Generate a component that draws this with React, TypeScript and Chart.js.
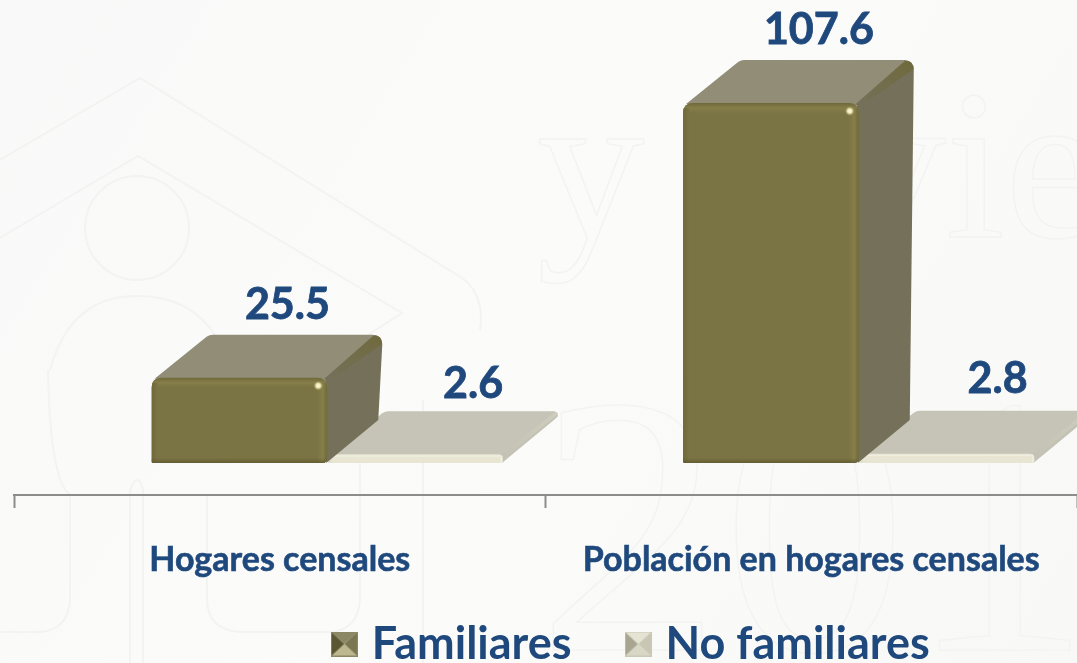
import React, { useEffect, useRef } from "react";
import { Chart, BarController, BarElement, registerables } from "chart.js";

Chart.register(...registerables);

const categories = ["Hogares censales", "Población en hogares censales"];
const seriesNames = ["Familiares", "No familiares"];
const familiares = [25.5, 107.6];
const noFamiliares = [2.6, 2.8];
const valueLabels = [["25.5", "107.6"], ["2.6", "2.8"]];

const FONT = "Lato, sans-serif";
const BLUE = "#1f497d";
const DX = 55, DY = 43, SHIFT = 47.5;

function marker(a: string, b: string, c: string, d: string, e: string) {
  const cv = document.createElement("canvas");
  cv.width = 27; cv.height = 25;
  const x = cv.getContext("2d")!;
  const tri = (pts: number[][], col: string) => {
    x.fillStyle = col; x.beginPath();
    pts.forEach((p, i) => (i ? x.lineTo(p[0], p[1]) : x.moveTo(p[0], p[1])));
    x.closePath(); x.fill();
  };
  tri([[0, 0], [27, 0], [13.5, 12.5]], a);
  tri([[0, 25], [27, 25], [13.5, 12.5]], b);
  tri([[0, 0], [0, 25], [13.5, 12.5]], c);
  tri([[27, 0], [27, 25], [13.5, 12.5]], d);
  x.strokeStyle = e; x.lineWidth = 1; x.strokeRect(0.5, 0.5, 26, 24);
  return cv;
}

function roundedFront(ctx: CanvasRenderingContext2D, l: number, t: number, r: number, b: number, rad: number, tall: boolean) {
  ctx.beginPath();
  if (tall) {
    ctx.moveTo(l + 1, b);
    ctx.lineTo(l, b - 1);
  } else {
    ctx.moveTo(l + rad * 0.5, b);
    ctx.quadraticCurveTo(l, b, l, b - rad * 0.5);
  }
  ctx.lineTo(l, t + rad);
  ctx.quadraticCurveTo(l, t, l + rad, t);
  ctx.lineTo(r - rad, t);
  ctx.quadraticCurveTo(r, t, r, t + rad);
  ctx.lineTo(r, b - rad * 0.5);
  ctx.quadraticCurveTo(r, b, r - rad * 0.5, b);
  ctx.closePath();
}

class Bar3D extends BarElement {
  static id = "bar3d";
  draw(ctx: CanvasRenderingContext2D) {
    const o: any = this.options;
    const el: any = this;
    const w = el.width;
    const l = el.x - w / 2 + SHIFT, r = l + w;
    const t = el.y, b = el.base;
    const h = b - t;
    const tall = h > 30;
    const rad = tall ? 10 : Math.min(5, h * 0.6);
    ctx.save();
    // side face
    ctx.fillStyle = o.sideColor;
    ctx.beginPath();
    ctx.moveTo(r - 1, b);
    ctx.lineTo(r + DX - 4, b - DY);
    ctx.lineTo(r + DX, t - DY + rad);
    ctx.quadraticCurveTo(r + DX, t - DY, r + DX - rad, t - DY);
    ctx.lineTo(r - 2, t);
    ctx.closePath();
    ctx.fill();
    // top face
    ctx.fillStyle = o.topColor;
    ctx.beginPath();
    ctx.moveTo(l + 3, t + 1);
    ctx.lineTo(l + DX, t - DY + 2);
    ctx.quadraticCurveTo(l + DX + 3, t - DY, l + DX + 6, t - DY);
    ctx.lineTo(r + DX - rad, t - DY);
    ctx.quadraticCurveTo(r + DX - 3, t - DY + 1, r + DX - 3, t - DY + 4);
    ctx.lineTo(r - 2, t + 2);
    ctx.closePath();
    ctx.fill();
    // soft bevel along the top right edge, wider towards the back
    const wide = tall ? 9 : 3;
    const gd = ctx.createLinearGradient(r, t, r + DX, t - DY);
    gd.addColorStop(0, o.sideColor);
    gd.addColorStop(1, o.edgeColor);
    ctx.fillStyle = gd;
    ctx.beginPath();
    ctx.moveTo(r - 3, t + 1);
    ctx.lineTo(r + DX - wide, t - DY + 1);
    ctx.quadraticCurveTo(r + DX - 1, t - DY, r + DX, t - DY + wide);
    ctx.lineTo(r, t + 5);
    ctx.closePath();
    ctx.fill();
    // front face
    roundedFront(ctx, l, t, r, b, rad, tall);
    ctx.fillStyle = o.backgroundColor;
    ctx.fill();
    ctx.save();
    ctx.clip();
    const bevel = tall ? 10 : 3;
    const gt = ctx.createLinearGradient(0, t, 0, t + bevel);
    gt.addColorStop(0, o.edgeDark);
    gt.addColorStop(0.5, o.edgeLight);
    gt.addColorStop(1, o.backgroundColor);
    ctx.fillStyle = gt;
    ctx.fillRect(l, t, w, bevel);
    const gr = ctx.createLinearGradient(r - bevel, 0, r, 0);
    gr.addColorStop(0, o.backgroundColor);
    gr.addColorStop(0.55, o.edgeLight);
    gr.addColorStop(1, o.edgeDark);
    ctx.fillStyle = gr;
    ctx.fillRect(r - bevel, t + bevel * 0.5, bevel, h);
    const gl = ctx.createLinearGradient(l, 0, l + 6, 0);
    gl.addColorStop(0, o.edgeDark);
    gl.addColorStop(1, o.backgroundColor);
    ctx.fillStyle = gl;
    ctx.fillRect(l, t + bevel * 0.5, 6, h);
    if (tall) {
      const gb = ctx.createLinearGradient(0, b - 5, 0, b);
      gb.addColorStop(0, "rgba(90,84,45,0)");
      gb.addColorStop(1, "rgba(90,84,45,0.7)");
      ctx.fillStyle = gb;
      ctx.fillRect(l, b - 5, w, 5);
      const s = ctx.createRadialGradient(r - 9, t + 8, 0, r - 9, t + 8, 5);
      s.addColorStop(0, "#fffbe0");
      s.addColorStop(0.45, "#efe8b4");
      s.addColorStop(1, "rgba(160,150,90,0)");
      ctx.fillStyle = s;
      ctx.fillRect(r - 16, t + 1, 14, 14);
    }
    ctx.restore();
    ctx.restore();
  }
}
(Bar3D as any).defaults = {
  ...(BarElement as any).defaults,
  topColor: "#928d77",
  sideColor: "#757059",
  edgeColor: "#77713f",
  edgeDark: "#6f6839",
  edgeLight: "#8b8450",
  pointStyle: "rect",
};
(Bar3D as any).defaultRoutes = (BarElement as any).defaultRoutes;

class Bar3DController extends BarController {
  static id = "bar3d";
}
(Bar3DController as any).defaults = { ...(BarController as any).defaults, dataElementType: "bar3d" };
(Bar3DController as any).overrides = { ...(BarController as any).overrides };

Chart.register(Bar3D as any, Bar3DController as any);

const backdrop = {
  id: "backdrop",
  beforeDraw(chart: any) {
    const { ctx, width, height } = chart;
    ctx.save();
    const g = ctx.createLinearGradient(0, 0, width, height);
    g.addColorStop(0, "#f8f9f8");
    g.addColorStop(0.5, "#fbfbfa");
    g.addColorStop(1, "#f8f8f7");
    ctx.fillStyle = g;
    ctx.fillRect(0, 0, width, height);
    ctx.strokeStyle = "#f3f4f2";
    ctx.lineWidth = 2;
    // house
    ctx.beginPath();
    ctx.moveTo(0, 160); ctx.lineTo(140, 78); ctx.lineTo(462, 278);
    ctx.quadraticCurveTo(485, 295, 480, 330);
    ctx.moveTo(0, 238); ctx.lineTo(138, 156); ctx.lineTo(402, 313); ctx.lineTo(360, 340);
    ctx.stroke();
    ctx.beginPath(); ctx.arc(137, 228, 52, 0, Math.PI * 2); ctx.stroke();
    ctx.beginPath();
    ctx.moveTo(50, 370); ctx.quadraticCurveTo(70, 296, 137, 296); ctx.quadraticCurveTo(190, 296, 215, 335);
    ctx.stroke();
    ctx.beginPath();
    ctx.moveTo(48, 370); ctx.quadraticCurveTo(50, 480, 70, 495); ctx.lineTo(70, 600); ctx.quadraticCurveTo(68, 630, 40, 632); ctx.lineTo(0, 632);
    ctx.moveTo(130, 663); ctx.lineTo(130, 490); ctx.quadraticCurveTo(138, 470, 143, 490); ctx.lineTo(143, 663);
    ctx.moveTo(207, 495); ctx.lineTo(207, 600); ctx.quadraticCurveTo(208, 630, 240, 632); ctx.lineTo(330, 632); ctx.quadraticCurveTo(358, 630, 360, 600); ctx.lineTo(360, 340);
    ctx.moveTo(423, 400); ctx.lineTo(423, 663);
    ctx.stroke();
    // large outlined words
    ctx.lineWidth = 1.5;
    ctx.font = "215px 'Liberation Serif'";
    ctx.textBaseline = "alphabetic";
    ctx.textAlign = "left";
    ctx.strokeText("y", 537, 237);
    ctx.strokeText("vie", 838, 237);
    ctx.font = "370px 'Liberation Serif'";
    ctx.strokeText("2010", 537, 650);
    ctx.restore();
  },
};

const valueText = {
  id: "valueText",
  afterDatasetsDraw(chart: any) {
    const { ctx } = chart;
    ctx.save();
    ctx.font = `bold 43px ${FONT}`;
    ctx.fillStyle = BLUE;
    ctx.strokeStyle = BLUE;
    ctx.lineWidth = 0.8;
    ctx.textAlign = "center";
    ctx.textBaseline = "middle";
    chart.data.datasets.forEach((_: any, di: number) => {
      chart.getDatasetMeta(di).data.forEach((el: any, i: number) => {
        const gap = di === 0 ? 30 : i === 0 ? 27 : 32;
        const nudge = di === 0 ? 0 : i === 0 ? 10 : 3;
        const px = el.x + SHIFT + 48 + nudge, py = el.y - DY - gap;
        ctx.fillText(valueLabels[di][i], px, py);
        ctx.strokeText(valueLabels[di][i], px, py);
      });
    });
    ctx.restore();
  },
};

const LEGEND_H = 60, AXIS_BLOCK_H = 108;
const legendPlace = {
  id: "legendPlace",
  beforeLayout(chart: any) {
    const lg = chart.legend;
    if (lg && !lg.__wrapped) {
      lg.__wrapped = true;
      const fit = lg.fit.bind(lg);
      lg.fit = () => { fit(); lg.height = LEGEND_H; };
    }
  },
  afterLayout(chart: any) {
    const lg = chart.legend;
    lg.left += 89; lg.right += 89;
    lg.top = 560; lg.bottom = 663;
    lg.width = lg.right - lg.left;
  },
};

export default function App() {
  const ref = useRef<HTMLCanvasElement>(null);
  useEffect(() => {
    const chart = new Chart(ref.current!, {
      type: "bar3d" as any,
      data: {
        labels: categories,
        datasets: [
          {
            label: seriesNames[0],
            data: familiares,
            backgroundColor: "#7a7343",
            topColor: "#928d77",
            sideColor: "#757059",
            edgeColor: "#6f6a3c",
            edgeDark: "#6f6839",
            edgeLight: "#867f4b",
            pointStyle: marker("#8c8865", "#bdb88f", "#5a5632", "#7a7650", "#8a8767"),
          } as any,
          {
            label: seriesNames[1],
            data: noFamiliares,
            backgroundColor: "#e8e6d2",
            topColor: "#c6c4b7",
            sideColor: "#c4c2b4",
            edgeColor: "#cfcdbd",
            edgeDark: "#dcdac6",
            edgeLight: "#f2f0e2",
            pointStyle: marker("#e5e3d3", "#d8d6c4", "#a8a690", "#c9c7b4", "#c9c7b5"),
          } as any,
        ],
      },
      options: {
        animation: false,
        responsive: false,
        devicePixelRatio: 1,
        layout: { padding: { left: 14, right: 0, top: 0, bottom: 0 } },
        datasets: { bar3d: { categoryPercentage: 0.661, barPercentage: 1 } } as any,
        scales: {
          x: {
            offset: true,
            afterFit(s: any) { s.height = AXIS_BLOCK_H; },
            grid: { offset: true, drawOnChartArea: false, tickLength: 13, tickColor: "#8c8c8c", tickWidth: 2 },
            border: { color: "#8c8c8c", width: 2 },
            ticks: {
              color: BLUE,
              padding: 32,
              textStrokeColor: BLUE,
              textStrokeWidth: 0.6,
              font: { family: FONT, size: 34, weight: "bold" },
              maxRotation: 0,
            },
          },
          y: { display: false, min: -9.56, max: 138.4 },
        },
        plugins: {
          tooltip: { enabled: false },
          legend: {
            position: "bottom",
            labels: {
              usePointStyle: true,
              pointStyleWidth: 10,
              color: BLUE,
              padding: 61.5,
              font: { family: FONT, size: 45, weight: "bold" },
            },
          },
        },
      } as any,
      plugins: [legendPlace, backdrop, valueText],
    } as any);
    return () => chart.destroy();
  }, []);
  return (
    <canvas
      ref={ref}
      width={1077}
      height={663}
      style={{ position: "fixed", left: 0, top: 0, width: 1077, height: 663, display: "block" }}
    />
  );
}
